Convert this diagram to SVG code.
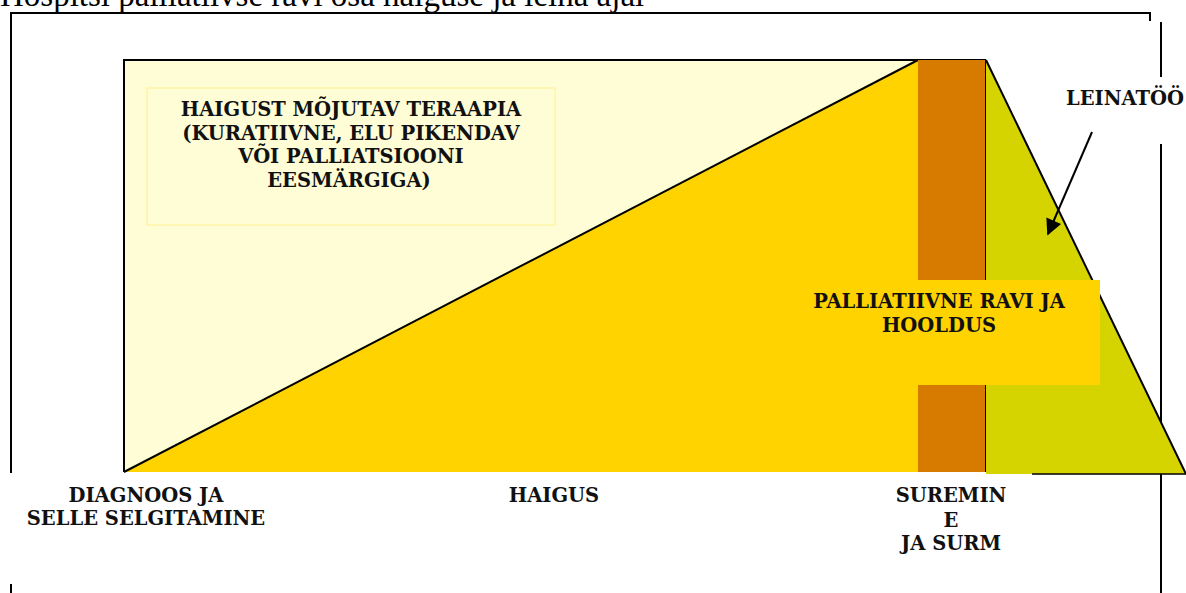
<svg xmlns="http://www.w3.org/2000/svg" width="1186" height="593" viewBox="0 0 1186 593">
<style>
.lbl{font-family:"DejaVu Serif","Liberation Serif",serif;font-weight:bold;font-size:19.5px;fill:#111;text-anchor:middle}
.ln{stroke:#000;stroke-width:2;fill:none}
</style>
<defs>
<marker id="ah" viewBox="0 0 10 10" refX="9" refY="5" markerWidth="10" markerHeight="8" orient="auto" markerUnits="strokeWidth">
<path d="M0,0 L10,5 L0,10 z" fill="#000"/>
</marker>
</defs>
<rect width="1186" height="593" fill="#fff"/>
<text x="0" y="6" font-family="Liberation Serif,serif" font-size="33" fill="#000">Hospitsi palliatiivse ravi osa haiguse ja leina ajal</text>
<g id="frame">
<path class="ln" d="M11,473 V13 H1150 V21"/>
<path class="ln" d="M11,584 V593"/>
<path class="ln" d="M1161,22 V77 M1161,144 V593"/>
</g>
<g id="therapy-area">
<rect x="124" y="60" width="794" height="412" fill="#FFFDD6"/>
<path d="M124,472 V60 H986" class="ln"/>
</g>
<g id="disease-triangle">
<polygon points="124,472 918,60 918,472" fill="#FFD300"/>
<line x1="124" y1="472" x2="918" y2="60" stroke="#000" stroke-width="2"/>
</g>
<g id="dying-bar">
<rect x="918" y="60" width="68" height="412" fill="#D77A00"/>
<line x1="986" y1="60" x2="986" y2="472" stroke="#000" stroke-width="2"/>
</g>
<g id="grief-area">
<polygon points="986,60 1186,474 986,474" fill="#D6D400"/>
<line x1="986" y1="60" x2="1186" y2="474" stroke="#000" stroke-width="2"/>
<line x1="1032" y1="474" x2="1186" y2="474" stroke="#000" stroke-width="1.5"/>
</g>
<g id="therapy-label">
<rect x="147" y="88" width="408" height="137" fill="none" stroke="#FFF4A8" stroke-width="1.5"/>
<text class="lbl" x="351" y="116">HAIGUST MÕJUTAV TERAAPIA</text>
<text class="lbl" x="351" y="140">(KURATIIVNE, ELU PIKENDAV</text>
<text class="lbl" x="351" y="163">VÕI PALLIATSIOONI</text>
<text class="lbl" x="349" y="187">EESMÄRGIGA)</text>
</g>
<g id="palliative-label">
<rect x="786" y="280" width="314" height="105" fill="#FFD300"/>
<text class="lbl" x="939" y="308">PALLIATIIVNE RAVI JA</text>
<text class="lbl" x="939" y="332">HOOLDUS</text>
</g>
<g id="grief-label">
<text class="lbl" x="1125" y="105">LEINATÖÖ</text>
</g>
<g id="axis-labels">
<text class="lbl" x="146" y="502">DIAGNOOS JA</text>
<text class="lbl" x="146" y="525">SELLE SELGITAMINE</text>
<text class="lbl" x="554" y="502">HAIGUS</text>
<text class="lbl" x="951" y="502">SUREMIN</text>
<text class="lbl" x="951" y="527">E</text>
<text class="lbl" x="951" y="550">JA SURM</text>
</g>
<g id="connectors">
<line x1="1092" y1="132" x2="1048" y2="234" stroke="#000" stroke-width="2" marker-end="url(#ah)"/>
</g>
</svg>
